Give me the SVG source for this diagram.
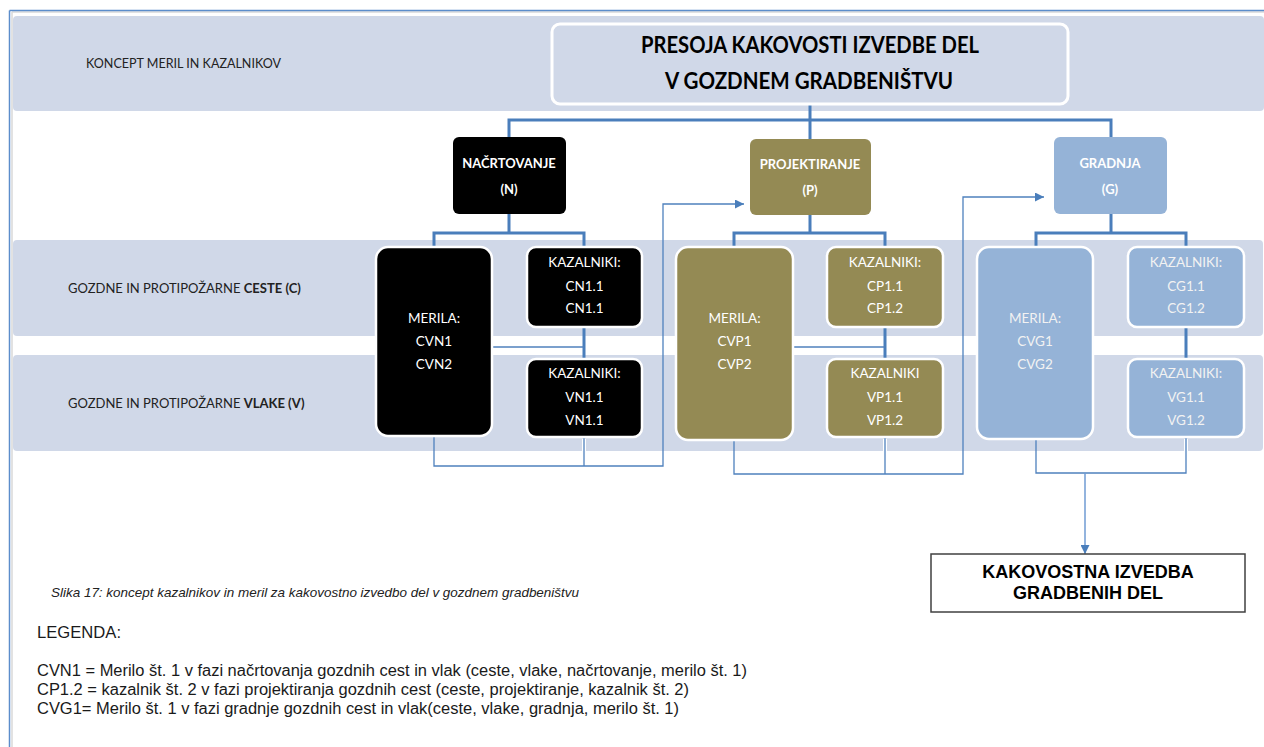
<svg xmlns="http://www.w3.org/2000/svg" width="1264" height="747" viewBox="0 0 1264 747">
<defs>
<style>
.band{fill:#D0D8E8}
.thick{fill:none;stroke:#4A7EBB;stroke-width:3}
.thin{fill:none;stroke:#4F81BD;stroke-width:1.3}
.bx{stroke:#FFFFFF;stroke-width:2.5}
.blk{fill:#000000}
.olv{fill:#948A54}
.blu{fill:#95B3D7}
.t2{font-family:Lato,"Liberation Sans",sans-serif;font-weight:bold;font-size:13px;fill:#FFFFFF;text-anchor:middle}
.t3{font-family:Lato,"Liberation Sans",sans-serif;font-size:13.5px;fill:#FFFFFF;text-anchor:middle}
.t3b{font-family:Lato,"Liberation Sans",sans-serif;font-size:13.5px;fill:#F2F2F2;text-anchor:middle}
.lbl{font-family:Lato,"Liberation Sans",sans-serif;font-size:13px;fill:#222222}
.leg{font-family:"Liberation Sans",Arial,sans-serif;font-size:16px;fill:#1a1a1a}
</style>
<marker id="ah" markerUnits="userSpaceOnUse" markerWidth="10" markerHeight="9" refX="9" refY="4.5" orient="auto">
<path d="M0,0 L9,4.5 L0,9 z" fill="#4A7EBB"/>
</marker>
</defs>
<rect width="1264" height="747" fill="#FFFFFF"/>
<!-- frame -->
<path d="M12,12 H1264 M12,12 V747" fill="none" stroke="#D9D9D9" stroke-width="1.5"/>
<path d="M9.5,10.5 H1264 M9.5,10.5 V747" fill="none" stroke="#5B8DCB" stroke-width="1.5"/>
<!-- bands -->
<g id="bands">
<rect class="band" x="13" y="16" width="1251" height="95" rx="4"/>
<rect class="band" x="13" y="240" width="1250" height="96" rx="4"/>
<rect class="band" x="13" y="355" width="1250" height="96" rx="4"/>
<text class="lbl" x="86" y="68" textLength="195" lengthAdjust="spacingAndGlyphs">KONCEPT MERIL IN KAZALNIKOV</text>
<text class="lbl" x="68" y="293">GOZDNE IN PROTIPOŽARNE <tspan font-weight="bold">CESTE (C)</tspan></text>
<text class="lbl" x="68" y="408">GOZDNE IN PROTIPOŽARNE <tspan font-weight="bold">VLAKE (V)</tspan></text>
</g>
<!-- connectors -->
<g id="connectors">
<path class="thick" d="M810,104 V139 M509,137 V120 H1111 V137"/>
<path class="thick" d="M509,214 V233 M434,247 V233 H584 V247 M584,327 V359"/>
<path class="thick" d="M810,215 V233 M734,247 V233 H885 V247 M885,327 V359"/>
<path class="thick" d="M1111,214 V233 M1036,247 V233 H1186 V247 M1186,327 V359"/>
<path d="M584,439 V452 M885,439 V452 M1186,439 V452" fill="none" stroke="#FFFFFF" stroke-width="4"/>
<path class="thin" d="M492,347 H584"/>
<path class="thin" d="M434,436 V466 H663 V204 H744" marker-end="url(#ah)"/>
<path class="thin" d="M584,437 V466"/>
<path class="thin" d="M793,347 H885"/>
<path class="thin" d="M734,440 V474 H963 V197 H1044" marker-end="url(#ah)"/>
<path class="thin" d="M885,437 V474"/>
<path class="thin" d="M1036,439 V473 H1186 V437"/>
<path d="M1085,473 V554" fill="none" stroke="#6F9BD3" stroke-width="1.5" marker-end="url(#ah)"/>
</g>
<!-- title -->
<g id="title">
<rect x="552" y="24" width="516" height="80" rx="8" fill="#D0D8E8" stroke="#FFFFFF" stroke-width="3"/>
<text x="810" y="53" font-family="Lato,'Liberation Sans',sans-serif" font-weight="bold" font-size="22" fill="#000000" text-anchor="middle" textLength="338" lengthAdjust="spacingAndGlyphs">PRESOJA KAKOVOSTI IZVEDBE DEL</text>
<text x="809" y="89" font-family="Lato,'Liberation Sans',sans-serif" font-weight="bold" font-size="22" fill="#000000" text-anchor="middle" textLength="288" lengthAdjust="spacingAndGlyphs">V GOZDNEM GRADBENIŠTVU</text>
</g>
<!-- level 2 -->
<g id="nacrtovanje">
<rect class="blk" x="453" y="137" width="113" height="77" rx="6"/>
<text class="t2" x="509" y="168">NAČRTOVANJE</text>
<text class="t2" x="509" y="194">(N)</text>
</g>
<g id="projektiranje">
<rect class="olv" x="750" y="139" width="121" height="76" rx="6"/>
<text class="t2" x="810" y="169">PROJEKTIRANJE</text>
<text class="t2" x="810" y="195">(P)</text>
</g>
<g id="gradnja">
<rect class="blu" x="1054" y="137" width="113" height="77" rx="6"/>
<text class="t2" x="1110" y="168">GRADNJA</text>
<text class="t2" x="1110" y="194">(G)</text>
</g>
<!-- level 3 N -->
<g id="merila-n">
<rect class="blk bx" x="376" y="247" width="116" height="189" rx="12"/>
<text class="t3" x="434" y="323">MERILA:</text>
<text class="t3" x="434" y="346">CVN1</text>
<text class="t3" x="434" y="369">CVN2</text>
</g>
<g id="kaz-cn">
<rect class="blk bx" x="527" y="247" width="115" height="80" rx="9"/>
<text class="t3" x="584.5" y="267">KAZALNIKI:</text>
<text class="t3" x="584.5" y="291">CN1.1</text>
<text class="t3" x="584.5" y="313">CN1.1</text>
</g>
<g id="kaz-vn">
<rect class="blk bx" x="527" y="359" width="115" height="78" rx="9"/>
<text class="t3" x="584.5" y="378">KAZALNIKI:</text>
<text class="t3" x="584.5" y="402">VN1.1</text>
<text class="t3" x="584.5" y="425">VN1.1</text>
</g>
<!-- level 3 P -->
<g id="merila-p">
<rect class="olv bx" x="676" y="247" width="117" height="193" rx="12"/>
<text class="t3" x="734.5" y="323">MERILA:</text>
<text class="t3" x="734.5" y="346">CVP1</text>
<text class="t3" x="734.5" y="369">CVP2</text>
</g>
<g id="kaz-cp">
<rect class="olv bx" x="827" y="247" width="116" height="80" rx="9"/>
<text class="t3" x="885" y="267">KAZALNIKI:</text>
<text class="t3" x="885" y="291">CP1.1</text>
<text class="t3" x="885" y="313">CP1.2</text>
</g>
<g id="kaz-vp">
<rect class="olv bx" x="827" y="359" width="116" height="78" rx="9"/>
<text class="t3" x="885" y="378">KAZALNIKI</text>
<text class="t3" x="885" y="402">VP1.1</text>
<text class="t3" x="885" y="425">VP1.2</text>
</g>
<!-- level 3 G -->
<g id="merila-g">
<rect class="blu bx" x="977" y="247" width="116" height="192" rx="12"/>
<text class="t3b" x="1035" y="323">MERILA:</text>
<text class="t3b" x="1035" y="346">CVG1</text>
<text class="t3b" x="1035" y="369">CVG2</text>
</g>
<g id="kaz-cg">
<rect class="blu bx" x="1128" y="247" width="116" height="80" rx="9"/>
<text class="t3b" x="1186" y="267">KAZALNIKI:</text>
<text class="t3b" x="1186" y="291">CG1.1</text>
<text class="t3b" x="1186" y="313">CG1.2</text>
</g>
<g id="kaz-vg">
<rect class="blu bx" x="1128" y="359" width="116" height="78" rx="9"/>
<text class="t3b" x="1186" y="378">KAZALNIKI:</text>
<text class="t3b" x="1186" y="402">VG1.1</text>
<text class="t3b" x="1186" y="425">VG1.2</text>
</g>
<!-- result -->
<g id="rezultat">
<rect x="931" y="554" width="314" height="58" fill="#FFFFFF" stroke="#404040" stroke-width="1.5"/>
<text x="1088" y="578" font-family="'Liberation Sans',Arial,sans-serif" font-weight="bold" font-size="18" fill="#000000" text-anchor="middle">KAKOVOSTNA IZVEDBA</text>
<text x="1088" y="599" font-family="'Liberation Sans',Arial,sans-serif" font-weight="bold" font-size="18" fill="#000000" text-anchor="middle">GRADBENIH DEL</text>
</g>
<!-- caption and legend -->
<g id="legenda">
<text x="51" y="597" font-family="'Liberation Sans',Arial,sans-serif" font-style="italic" font-size="13" fill="#222222" textLength="528" lengthAdjust="spacingAndGlyphs">Slika 17: koncept kazalnikov in meril za kakovostno izvedbo del v gozdnem gradbeništvu</text>
<text class="leg" x="37" y="638" textLength="84" lengthAdjust="spacingAndGlyphs">LEGENDA:</text>
<text class="leg" x="37" y="676" textLength="710" lengthAdjust="spacingAndGlyphs">CVN1 = Merilo št. 1 v fazi načrtovanja gozdnih cest in vlak (ceste, vlake, načrtovanje, merilo št. 1)</text>
<text class="leg" x="37" y="695" textLength="652" lengthAdjust="spacingAndGlyphs">CP1.2 = kazalnik št. 2 v fazi projektiranja gozdnih cest (ceste, projektiranje, kazalnik št. 2)</text>
<text class="leg" x="37" y="714" textLength="642" lengthAdjust="spacingAndGlyphs">CVG1= Merilo št. 1 v fazi gradnje gozdnih cest in vlak(ceste, vlake, gradnja, merilo št. 1)</text>
</g>
</svg>
